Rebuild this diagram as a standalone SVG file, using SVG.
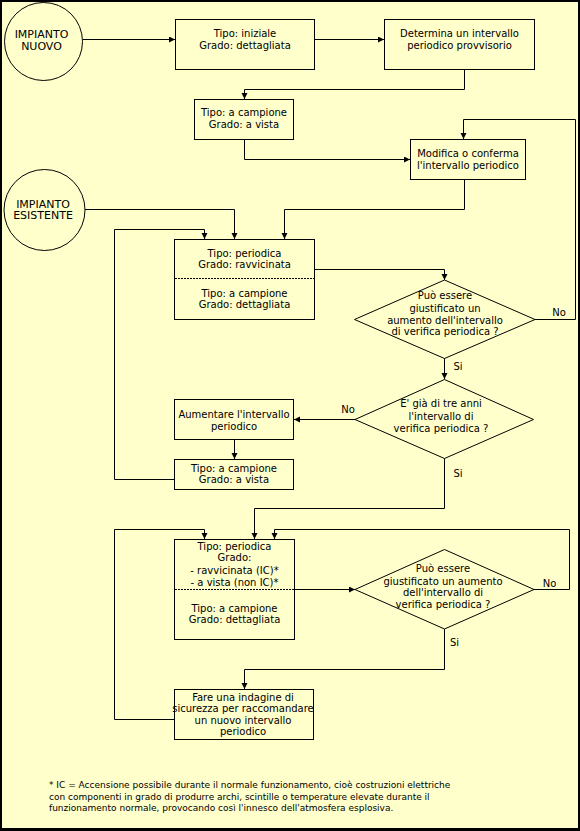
<svg xmlns="http://www.w3.org/2000/svg" width="580" height="831" viewBox="0 0 580 831">
<style>
.bg{fill:#FFFFCC}
.box{fill:none;stroke:#000;stroke-width:1}
.sep{stroke:#000;stroke-width:1;stroke-dasharray:2 1}
.con{fill:none;stroke:#000;stroke-width:1}
text{font-family:"DejaVu Sans",Verdana,sans-serif;font-size:10px;fill:#000;text-anchor:middle}
.big{font-size:11px}
.lbl{font-size:10px}
.note{font-size:9px;text-anchor:start}
</style>
<defs>
<marker id="ah" markerUnits="userSpaceOnUse" markerWidth="7" markerHeight="7" refX="6" refY="3" orient="auto">
<path d="M0,0 L6,3 L0,6 z" fill="#000"/>
</marker>
</defs>
<rect x="0" y="0" width="580" height="831" fill="#000"/>
<rect class="bg" x="2" y="2" width="576" height="826"/>

<g id="connectors">
<path class="con" d="M83 39.5 H175" marker-end="url(#ah)"/>
<path class="con" d="M314.5 39.5 H384" marker-end="url(#ah)"/>
<path class="con" d="M464.5 69.5 V89.5 H244.5 V99" marker-end="url(#ah)"/>
<path class="con" d="M244.5 139.5 V159.5 H410" marker-end="url(#ah)"/>
<path class="con" d="M464.5 179.5 V209.5 H284.5 V239" marker-end="url(#ah)"/>
<path class="con" d="M85 209.5 H234.5 V239" marker-end="url(#ah)"/>
<path class="con" d="M174.5 479.5 H114.5 V229.5 H204.5 V239" marker-end="url(#ah)"/>
<path class="con" d="M314.5 269.5 H444.5 V280" marker-end="url(#ah)"/>
<path class="con" d="M535 319.5 H575.5 V119.5 H463.5 V139" marker-end="url(#ah)"/>
<path class="con" d="M444.5 358.5 V379" marker-end="url(#ah)"/>
<path class="con" d="M355 419.5 H294" marker-end="url(#ah)"/>
<path class="con" d="M234.5 439.5 V459" marker-end="url(#ah)"/>
<path class="con" d="M444.5 458.5 V508.5 H254.5 V539" marker-end="url(#ah)"/>
<path class="con" d="M174.5 719.5 H114.5 V529.5 H204.5 V539" marker-end="url(#ah)"/>
<path class="con" d="M534 589.5 H569.5 V529.5 H274.5 V539" marker-end="url(#ah)"/>
<path class="con" d="M294.5 589.5 H355" marker-end="url(#ah)"/>
<path class="con" d="M444.5 629 V669.5 H244.5 V689" marker-end="url(#ah)"/>
<text class="lbl" x="559" y="316">No</text>
<text class="lbl" x="458" y="370">Si</text>
<text class="lbl" x="348" y="413">No</text>
<text class="lbl" x="458" y="477">Si</text>
<text class="lbl" x="549.5" y="587">No</text>
<text class="lbl" x="454.5" y="646">Si</text>
</g>

<g id="impianto-nuovo">
<circle class="box" cx="43.5" cy="41.5" r="39"/>
<text class="big" x="41.5" y="37.5">IMPIANTO</text>
<text class="big" x="41.5" y="49.5">NUOVO</text>
</g>

<g id="tipo-iniziale">
<rect class="box" x="175.5" y="19.5" width="139" height="50"/>
<text x="245" y="37">Tipo: iniziale</text>
<text x="245" y="49">Grado: dettagliata</text>
</g>

<g id="determina">
<rect class="box" x="384.5" y="19.5" width="150" height="50"/>
<text x="459.5" y="37">Determina un intervallo</text>
<text x="459.5" y="49">periodico provvisorio</text>
</g>

<g id="campione-vista-1">
<rect class="box" x="194.5" y="99.5" width="99" height="40"/>
<text x="244" y="116">Tipo: a campione</text>
<text x="244" y="127.5">Grado: a vista</text>
</g>

<g id="modifica">
<rect class="box" x="410.5" y="139.5" width="115" height="40"/>
<text x="468" y="156.5">Modifica o conferma</text>
<text x="468" y="168.5">l'intervallo periodico</text>
</g>

<g id="impianto-esistente">
<circle class="box" cx="44.5" cy="210" r="40.5"/>
<text class="big" x="43" y="207.5">IMPIANTO</text>
<text class="big" x="43" y="219">ESISTENTE</text>
</g>

<g id="periodica-ravvicinata">
<rect class="box" x="174.5" y="239.5" width="140" height="80"/>
<line class="sep" x1="175" y1="278.5" x2="314" y2="278.5"/>
<text x="244.5" y="256.5">Tipo: periodica</text>
<text x="244.5" y="268">Grado: ravvicinata</text>
<text x="244.5" y="296.5">Tipo: a campione</text>
<text x="244.5" y="308">Grado: dettagliata</text>
</g>

<g id="decisione-1">
<polygon class="box" points="444.5,280 535,319.5 444.5,358.5 354.5,319.5"/>
<text x="445" y="299">Può essere</text>
<text x="445" y="311.5">giustificato un</text>
<text x="445" y="324">aumento dell'intervallo</text>
<text x="445" y="335">di verifica periodica ?</text>
</g>

<g id="decisione-2">
<polygon class="box" points="444.5,379.5 533.5,419.5 444.5,458.5 355,419.5"/>
<text x="441" y="407">E' già di tre anni</text>
<text x="441" y="419.5">l'intervallo di</text>
<text x="441" y="432">verifica periodica ?</text>
</g>

<g id="aumentare">
<rect class="box" x="174.5" y="399.5" width="119" height="40"/>
<text x="234" y="417.5">Aumentare l'intervallo</text>
<text x="234" y="429.5">periodico</text>
</g>

<g id="campione-vista-2">
<rect class="box" x="174.5" y="459.5" width="119" height="30"/>
<text x="234" y="471.5">Tipo: a campione</text>
<text x="234" y="483">Grado: a vista</text>
</g>

<g id="periodica-ic">
<rect class="box" x="174.5" y="539.5" width="120" height="100"/>
<line class="sep" x1="175" y1="589.5" x2="294" y2="589.5"/>
<text x="234.5" y="549.5">Tipo: periodica</text>
<text x="234.5" y="561">Grado:</text>
<text x="234.5" y="573.5">- ravvicinata (IC)*</text>
<text x="234.5" y="585.5">- a vista (non IC)*</text>
<text x="234.5" y="612">Tipo: a campione</text>
<text x="234.5" y="623">Grado: dettagliata</text>
</g>

<g id="decisione-3">
<polygon class="box" points="444.5,549.5 534,589.5 444.5,629 355,589.5"/>
<text x="443" y="572">Può essere</text>
<text x="443" y="585">giustificato un aumento</text>
<text x="443" y="596">dell'intervallo di</text>
<text x="443" y="607.5">verifica periodica ?</text>
</g>

<g id="indagine">
<rect class="box" x="174.5" y="689.5" width="139" height="50"/>
<text x="243" y="701">Fare una indagine di</text>
<text x="243" y="712">sicurezza per raccomandare</text>
<text x="243" y="723.5">un nuovo intervallo</text>
<text x="243" y="734.5">periodico</text>
</g>

<g id="nota">
<text class="note" x="49" y="788">* IC = Accensione possibile durante il normale funzionamento, cioè costruzioni elettriche</text>
<text class="note" x="49" y="799.5">con componenti in grado di produrre archi, scintille o temperature elevate durante il</text>
<text class="note" x="49" y="811">funzionamento normale, provocando così l'innesco dell'atmosfera esplosiva.</text>
</g>
</svg>
